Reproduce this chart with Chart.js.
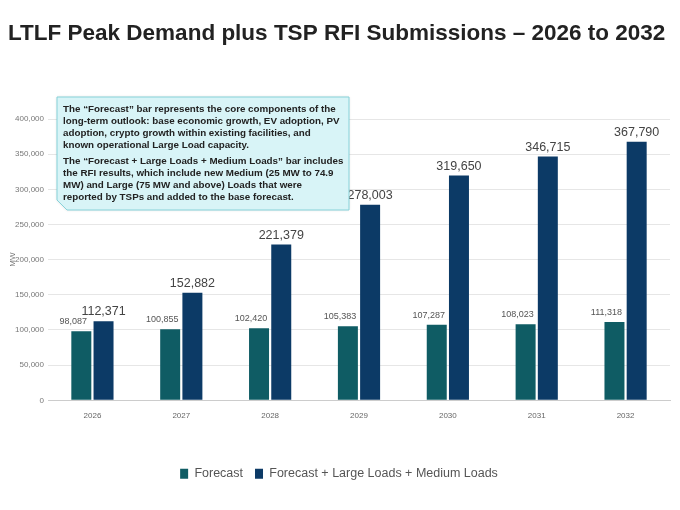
<!DOCTYPE html>
<html>
<head>
<meta charset="utf-8">
<script src="https://cdn.jsdelivr.net/npm/chart.js@4"></script>
<style>
body { margin: 0; background: #fff; }
#wrap { width: 680px; height: 510px; }
</style>
</head>
<body>
<div id="wrap"><canvas id="chart"></canvas></div>
<script>
const years = ["2026", "2027", "2028", "2029", "2030", "2031", "2032"];
const forecast = [98087, 100855, 102420, 105383, 107287, 108023, 111318];
const forecastPlus = [112371, 152882, 221379, 278003, 319650, 346715, 367790];
const noteLines1 = [
    "The \u201cForecast\u201d bar represents the core components of the",
    "long-term outlook: base economic growth, EV adoption, PV",
    "adoption, crypto growth within existing facilities, and",
    "known operational Large Load capacity."
];
const noteLines2 = [
    "The \u201cForecast + Large Loads + Medium Loads\u201d bar includes",
    "the RFI results, which include new Medium (25 MW to 74.9",
    "MW) and Large (75 MW and above) Loads that were",
    "reported by TSPs and added to the base forecast."
];

// value labels above bars
const valueLabels = {
    id: 'valueLabels',
    afterDatasetsDraw(chart) {
        const ctx = chart.ctx;
        ctx.save();
        ctx.textAlign = 'center';
        ctx.textBaseline = 'bottom';
        chart.data.datasets.forEach((ds, i) => {
            const meta = chart.getDatasetMeta(i);
            ctx.font = i === 0 ? '9px "Liberation Sans", Arial' : '12.5px "Liberation Sans", Arial';
            ctx.fillStyle = i === 0 ? '#555' : '#444';
            meta.data.forEach((bar, j) => {
                ctx.fillText(ds.data[j].toLocaleString('en-US'), bar.x + (i === 0 ? -8 : 0), bar.y - (i === 0 ? 5 : 3));
            });
        });
        ctx.restore();
    }
};

// callout box in the top-left
const callout = {
    id: 'callout',
    afterDraw(chart) {
        const ctx = chart.ctx;
        const x = 57, y = 97, w = 292, h = 113;
        ctx.save();
        ctx.shadowColor = 'rgba(0,0,0,0.15)';
        ctx.shadowBlur = 3;
        ctx.fillStyle = '#d8f4f7';
        ctx.strokeStyle = '#86d2d9';
        ctx.lineWidth = 1;
        ctx.beginPath();
        ctx.moveTo(x, y);
        ctx.lineTo(x + w, y);
        ctx.lineTo(x + w, y + h);
        ctx.lineTo(x + 10, y + h);
        ctx.lineTo(x, y + h - 10);
        ctx.closePath();
        ctx.fill();
        ctx.shadowColor = 'transparent';
        ctx.stroke();
        ctx.fillStyle = '#222';
        ctx.font = 'bold 9.8px "Liberation Sans", Arial';
        ctx.textBaseline = 'alphabetic';
        noteLines1.forEach((t, k) => ctx.fillText(t, x + 6, y + 15 + k * 12));
        noteLines2.forEach((t, k) => ctx.fillText(t, x + 6, y + 67 + k * 12));
        ctx.restore();
    }
};

new Chart(document.getElementById('chart'), {
    type: 'bar',
    data: {
        labels: years,
        datasets: [{
            label: 'Forecast',
            data: forecast,
            backgroundColor: '#0f5c64',
            categoryPercentage: 0.5,
            barPercentage: 0.9
        }, {
            label: 'Forecast + Large Loads + Medium Loads',
            data: forecastPlus,
            backgroundColor: '#0c3a66',
            categoryPercentage: 0.5,
            barPercentage: 0.9
        }]
    },
    options: {
        responsive: true,
        maintainAspectRatio: false,
        animation: false,
        layout: { padding: { left: 8, right: 10, top: 0, bottom: 20 } },
        plugins: {
            title: {
                display: true,
                text: 'LTLF Peak Demand plus TSP RFI Submissions \u2013 2026 to 2032',
                align: 'start',
                color: '#222',
                font: { size: 22.5, weight: 'bold', family: '"Liberation Sans", Arial' },
                padding: { top: 20, bottom: 72 }
            },
            legend: {
                position: 'bottom',
                labels: {
                    boxWidth: 8, boxHeight: 10, color: '#555',
                    font: { size: 12.5, family: '"Liberation Sans", Arial' },
                    padding: 12
                }
            },
            tooltip: { enabled: false }
        },
        scales: {
            x: {
                grid: { display: false },
                border: { color: '#ccc' },
                ticks: { color: '#666', font: { size: 8 } },
                title: { display: true, text: ' ', font: { size: 8 }, padding: { top: 22, bottom: 0 } }
            },
            y: {
                min: 0, max: 400000,
                afterFit(scale) { scale.width = 40; },
                ticks: { stepSize: 50000, color: '#777', font: { size: 8 }, padding: 4,
                    callback: v => v.toLocaleString('en-US') },
                grid: { color: '#e6e6e6', drawTicks: false },
                border: { display: false },
                title: { display: true, text: 'MW', color: '#777', font: { size: 8 }, padding: 0 }
            }
        }
    },
    plugins: [valueLabels, callout]
});
</script>
</body>
</html>
